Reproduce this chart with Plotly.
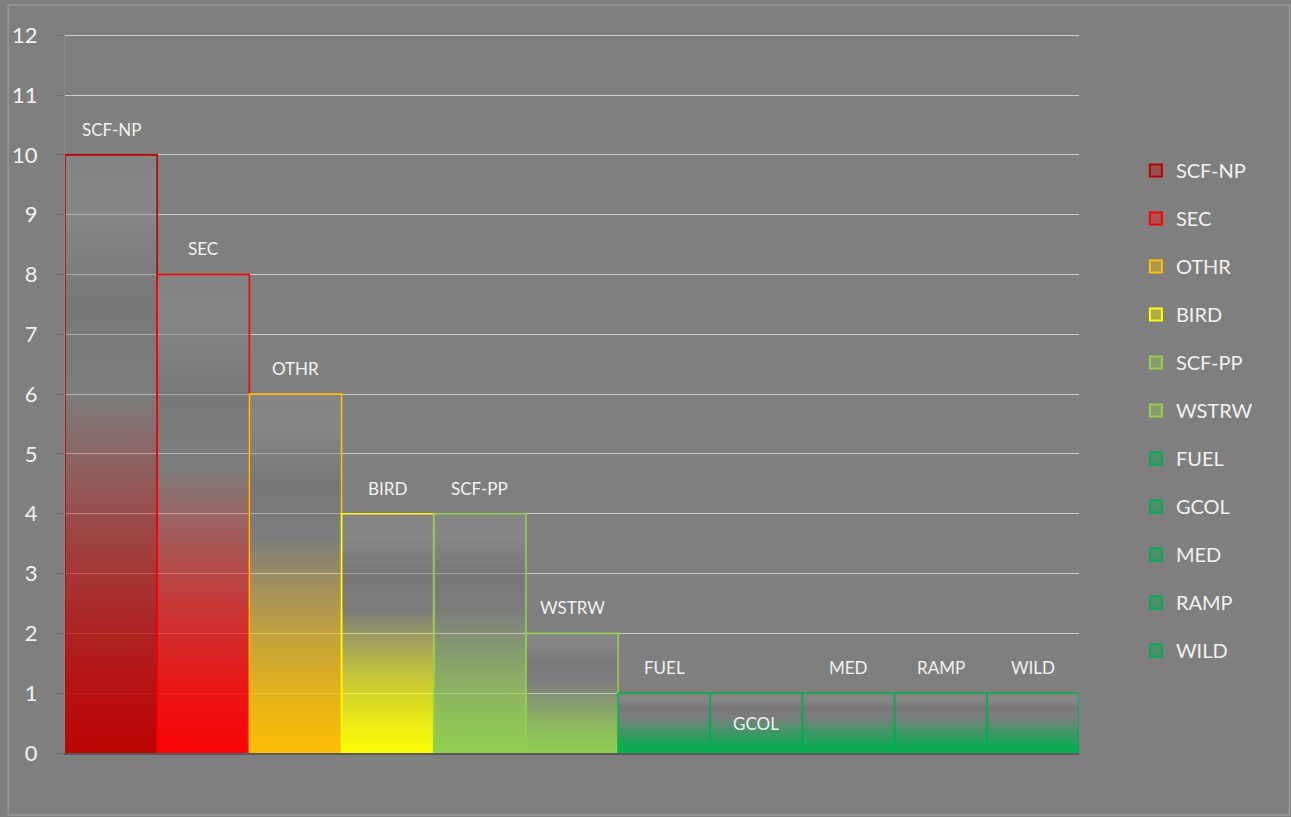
import plotly.graph_objects as go
import numpy as np

categories = ["SCF-NP", "SEC", "OTHR", "BIRD", "SCF-PP", "WSTRW",
              "FUEL", "GCOL", "MED", "RAMP", "WILD"]
values = [10, 8, 6, 4, 4, 2, 1, 1, 1, 1, 1]
colors_rgb = [(192, 0, 0), (255, 0, 0), (255, 192, 0), (255, 255, 0),
              (146, 208, 80), (146, 208, 80),
              (0, 176, 80), (0, 176, 80), (0, 176, 80), (0, 176, 80), (0, 176, 80)]
y_ticks = list(range(0, 13))
inside_labels = {"GCOL"}

FONT = "Lato, 'Open Sans', sans-serif"
BG = "#7f7f7f"


def rgba(c, a):
    return f"rgba({c[0]},{c[1]},{c[2]},{a})"


fig = go.Figure()
xs = np.arange(len(categories))

# gradient-filled bars
for i, (cat, v, c) in enumerate(zip(categories, values, colors_rgb)):
    x0, x1 = xs[i] - 0.5, xs[i] + 0.5
    cs = [
        [0.0, rgba(c, 0.97)],
        [0.12, rgba(c, 0.85)],
        [0.3, rgba(c, 0.58)],
        [0.45, rgba(c, 0.3)],
        [0.6, "rgba(118,118,118,0.3)"],
        [0.75, "rgba(110,110,110,0.45)"],
        [0.9, "rgba(142,142,142,0.5)"],
        [1.0, "rgba(138,138,138,0.5)"],
    ]
    fig.add_trace(go.Scatter(
        x=[x0, x0, x1, x1, x0], y=[0, v, v, 0, 0],
        mode="lines", fill="toself",
        fillgradient=dict(type="vertical", colorscale=cs, start=0, stop=v),
        line=dict(color=rgba(c, 1), width=1.6),
        showlegend=False, hoverinfo="skip",
    ))

# legend entries
for i, (cat, c) in enumerate(zip(categories, colors_rgb)):
    fig.add_trace(go.Bar(
        x=[xs[i]], y=[None], name=cat, legendgroup=cat,
        marker=dict(color=rgba(c, 0.35), line=dict(color=rgba(c, 1), width=2)),
    ))

# data labels
for i, (cat, v) in enumerate(zip(categories, values)):
    if cat in inside_labels:
        fig.add_annotation(x=xs[i], y=v / 2, text=cat, showarrow=False,
                           yanchor="middle",
                           font=dict(family=FONT, size=17, color="#f2f2f2"))
    else:
        fig.add_annotation(x=xs[i], y=v, text=cat, showarrow=False,
                           yanchor="bottom", yshift=13,
                           font=dict(family=FONT, size=17, color="#f2f2f2"))

# outer frame
L, R, T, B = 63, 1079, 34, 753
W, H = R - L, B - T
fig.add_shape(type="rect", xref="paper", yref="paper",
              x0=(6 - L) / W, x1=(1290 - L) / W,
              y0=(B - 815) / H, y1=(B - 5) / H,
              line=dict(color="#a6a6a6", width=1), layer="below")

fig.update_layout(
    width=1291, height=817,
    margin=dict(l=L, r=1291 - R, t=T, b=817 - B),
    paper_bgcolor=BG, plot_bgcolor=BG,
    barmode="overlay",
    font=dict(family=FONT, color="#f2f2f2"),
    legend=dict(
        x=(1136 - L) / W, xanchor="left",
        y=(B - 151) / H, yanchor="top",
        font=dict(family=FONT, size=20, color="#f2f2f2"),
        bgcolor="rgba(0,0,0,0)",
        tracegroupgap=19, itemwidth=30,
    ),
    xaxis=dict(
        range=[-0.5, len(categories) - 0.5],
        showticklabels=False, showgrid=False, zeroline=False,
        showline=True, linecolor="#595959", linewidth=2,
        ticks="", fixedrange=True,
    ),
    yaxis=dict(
        range=[0, 12.02], tickvals=y_ticks,
        showgrid=True, gridcolor="rgba(228,228,228,0.8)", gridwidth=1,
        zeroline=False,
        showline=True, linecolor="#878787", linewidth=1,
        ticks="outside", ticklen=8, tickcolor="#6e6e6e",
        ticklabelstandoff=14,
        tickfont=dict(family=FONT, size=22, color="#f2f2f2"),
    ),
)

fig.write_html("out.html")
